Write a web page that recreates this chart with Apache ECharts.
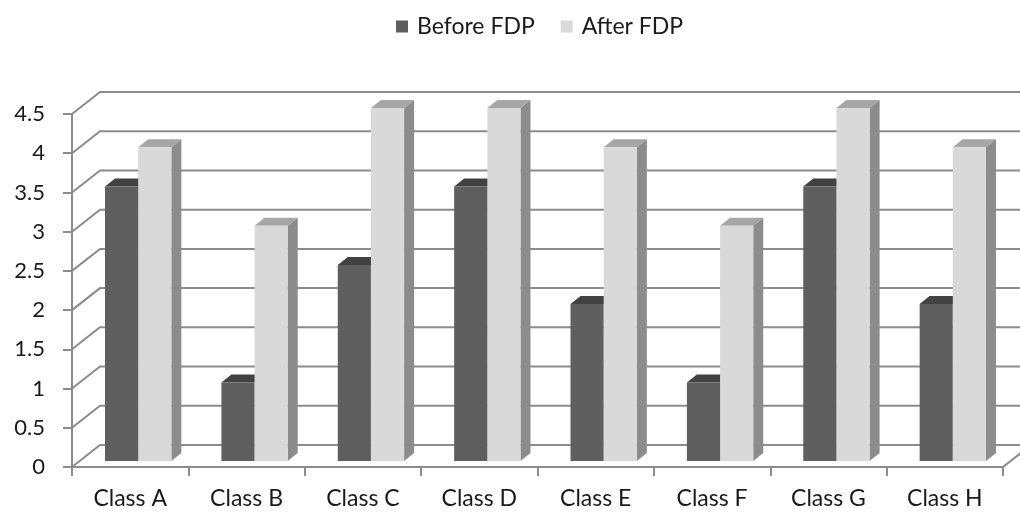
<!DOCTYPE html>
<html>
<head>
<meta charset="utf-8">
<script src="https://cdn.jsdelivr.net/npm/echarts@6/dist/echarts.min.js"></script>
<style>
  html, body { margin: 0; padding: 0; background: #fff; }
  #chart { width: 1020px; height: 515px; }
</style>
</head>
<body>
<div id="chart"></div>
<script>
const categories = ['Class A', 'Class B', 'Class C', 'Class D', 'Class E', 'Class F', 'Class G', 'Class H']
const beforeFDP = [3.5, 1, 2.5, 3.5, 2, 1, 3.5, 2]
const afterFDP = [4, 3, 4.5, 4.5, 4, 3, 4.5, 4]
const wallLevels = [0, 0.5, 1, 1.5, 2, 2.5, 3, 3.5, 4, 4.5]

// 3d look: back wall offset, bar plane offset, bar depth
const WALL_X = 28, WALL_Y = 22
const FRONT_X = 8, FRONT_Y = 6
const DEPTH_X = 10, DEPTH_Y = 8
const LINE = '#8c8c8c'
const FONT = 'Lato'

const myChart = echarts.init(document.getElementById('chart'))

function boxRenderer (side, colors) {
  return function (params, api) {
    const top = api.coord([api.value(0), api.value(1)])
    const base = api.coord([api.value(0), 0])
    const band = api.size([1, 0])[0]
    const w = band * 0.285
    const x0 = top[0] + FRONT_X + (side === 0 ? -w : 0)
    const x1 = x0 + w
    const yt = top[1] - FRONT_Y
    const yb = base[1] - FRONT_Y
    return {
      type: 'group',
      children: [
        {
          type: 'polygon',
          shape: { points: [[x1, yt], [x1 + DEPTH_X, yt - DEPTH_Y], [x1 + DEPTH_X, yb - DEPTH_Y], [x1, yb]] },
          style: { fill: colors.side }
        },
        {
          type: 'polygon',
          shape: { points: [[x0, yt], [x1, yt], [x1 + DEPTH_X, yt - DEPTH_Y], [x0 + DEPTH_X, yt - DEPTH_Y]] },
          style: { fill: colors.top }
        },
        {
          type: 'rect',
          shape: { x: x0, y: yt, width: w, height: yb - yt },
          style: { fill: colors.front }
        }
      ]
    }
  }
}

function wallRenderer (params, api) {
  const cs = params.coordSys
  const y = api.coord([0, api.value(1)])[1]
  const left = cs.x
  const right = cs.x + cs.width
  const children = [{
    type: 'polyline',
    shape: { points: [[left, y], [left + WALL_X, y - WALL_Y], [right + WALL_X + 40, y - WALL_Y]] },
    style: { stroke: LINE, lineWidth: 2, fill: null }
  }]
  if (api.value(1) === 0) {
    children.push({
      type: 'line',
      shape: { x1: right, y1: y, x2: right + WALL_X, y2: y - WALL_Y },
      style: { stroke: LINE, lineWidth: 2 }
    })
  }
  return { type: 'group', children: children }
}

const option = {
  animation: false,
  backgroundColor: '#fff',
  textStyle: { fontFamily: FONT },
  legend: {
    top: 10,
    left: 391,
    itemWidth: 12,
    itemHeight: 12,
    itemGap: 26,
    icon: 'rect',
    textStyle: { fontFamily: FONT, fontSize: 23, color: '#1a1a1a', padding: [0, 0, 0, 4] },
    data: ['Before FDP', 'After FDP']
  },
  grid: {
    left: 72,
    right: 17,
    top: 114,
    bottom: 48,
    containLabel: false
  },
  xAxis: {
    type: 'category',
    data: categories,
    axisLine: { lineStyle: { color: LINE, width: 2 } },
    axisTick: { show: true, length: 9, alignWithLabel: false, lineStyle: { color: LINE, width: 2 } },
    axisLabel: { fontFamily: FONT, fontSize: 23, color: '#1a1a1a', margin: 20 },
    splitLine: { show: false }
  },
  yAxis: {
    type: 'value',
    min: 0,
    max: 4.5,
    interval: 0.5,
    axisLine: { show: true, lineStyle: { color: LINE, width: 2 } },
    axisTick: { show: true, length: 9, lineStyle: { color: LINE, width: 2 } },
    axisLabel: { fontFamily: FONT, fontSize: 22, color: '#1a1a1a', margin: 27 },
    splitLine: { show: false }
  },
  series: [
    {
      name: 'wall',
      type: 'custom',
      clip: false,
      silent: true,
      z: 1,
      renderItem: wallRenderer,
      data: wallLevels.map(v => [0, v])
    },
    {
      name: 'Before FDP',
      type: 'custom',
      z: 3,
      itemStyle: { color: '#5f5f5f' },
      renderItem: boxRenderer(0, { front: '#5f5f5f', top: '#424242', side: '#4a4a4a' }),
      data: beforeFDP.map((v, i) => [i, v])
    },
    {
      name: 'After FDP',
      type: 'custom',
      z: 4,
      itemStyle: { color: '#d9d9d9' },
      renderItem: boxRenderer(1, { front: '#d9d9d9', top: '#a6a6a6', side: '#8c8c8c' }),
      data: afterFDP.map((v, i) => [i, v])
    }
  ]
}

myChart.setOption(option)
</script>
</body>
</html>
